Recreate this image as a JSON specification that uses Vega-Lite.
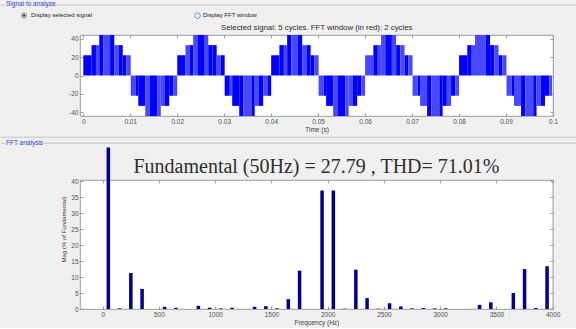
{
  "$schema": "https://vega.github.io/schema/vega-lite/v6.json",
  "background": "#f0f0f0",
  "padding": {"left": 0, "top": 0, "right": 0, "bottom": 1},
  "spacing": 2,
  "datasets": {
    "wave": [
      {"t0":0,"t1":0.00175,"v":22,"s":"d"},{"t0":0.00175,"t1":0.0027,"v":33,"s":"d"},{"t0":0.0027,"t1":0.0034,"v":33,"s":"l"},{"t0":0.0034,"t1":0.0043,"v":44,"s":"d"},{"t0":0.0043,"t1":0.0057,"v":44,"s":"l"},{"t0":0.0057,"t1":0.0066,"v":44,"s":"d"},{"t0":0.0066,"t1":0.0075,"v":33,"s":"l"},{"t0":0.0075,"t1":0.0084,"v":33,"s":"d"},{"t0":0.0084,"t1":0.0092,"v":22,"s":"d"},{"t0":0.0092,"t1":0.0101,"v":22,"s":"l"},
      {"t0":0.0101,"t1":0.0112,"v":-22,"s":"l"},{"t0":0.0112,"t1":0.0117,"v":-22,"s":"d"},{"t0":0.0117,"t1":0.0132,"v":-33,"s":"d"},{"t0":0.0132,"t1":0.0141,"v":-44,"s":"l"},{"t0":0.0141,"t1":0.0158,"v":-44,"s":"d"},{"t0":0.0158,"t1":0.0165,"v":-44,"s":"l"},{"t0":0.0165,"t1":0.0174,"v":-33,"s":"l"},{"t0":0.0174,"t1":0.0183,"v":-33,"s":"d"},{"t0":0.0183,"t1":0.0192,"v":-22,"s":"d"},{"t0":0.0192,"t1":0.02,"v":-22,"s":"l"},
      {"t0":0.02,"t1":0.02175,"v":22,"s":"d"},{"t0":0.02175,"t1":0.0227,"v":33,"s":"l"},{"t0":0.0227,"t1":0.0234,"v":33,"s":"d"},{"t0":0.0234,"t1":0.0243,"v":44,"s":"l"},{"t0":0.0243,"t1":0.0257,"v":44,"s":"d"},{"t0":0.0257,"t1":0.0266,"v":44,"s":"l"},{"t0":0.0266,"t1":0.0275,"v":33,"s":"d"},{"t0":0.0275,"t1":0.0284,"v":33,"s":"d"},{"t0":0.0284,"t1":0.0292,"v":22,"s":"l"},{"t0":0.0292,"t1":0.0301,"v":22,"s":"d"},
      {"t0":0.0301,"t1":0.0312,"v":-22,"s":"d"},{"t0":0.0312,"t1":0.0317,"v":-22,"s":"l"},{"t0":0.0317,"t1":0.0332,"v":-33,"s":"d"},{"t0":0.0332,"t1":0.0341,"v":-44,"s":"d"},{"t0":0.0341,"t1":0.0358,"v":-44,"s":"l"},{"t0":0.0358,"t1":0.0365,"v":-44,"s":"d"},{"t0":0.0365,"t1":0.0374,"v":-33,"s":"l"},{"t0":0.0374,"t1":0.0383,"v":-33,"s":"d"},{"t0":0.0383,"t1":0.0392,"v":-22,"s":"l"},{"t0":0.0392,"t1":0.04,"v":-22,"s":"d"},
      {"t0":0.04,"t1":0.04175,"v":22,"s":"d"},{"t0":0.04175,"t1":0.0427,"v":33,"s":"d"},{"t0":0.0427,"t1":0.0434,"v":33,"s":"l"},{"t0":0.0434,"t1":0.0443,"v":44,"s":"d"},{"t0":0.0443,"t1":0.0457,"v":44,"s":"l"},{"t0":0.0457,"t1":0.0466,"v":44,"s":"d"},{"t0":0.0466,"t1":0.0475,"v":33,"s":"l"},{"t0":0.0475,"t1":0.0484,"v":33,"s":"d"},{"t0":0.0484,"t1":0.0492,"v":22,"s":"d"},{"t0":0.0492,"t1":0.0501,"v":22,"s":"l"},
      {"t0":0.0501,"t1":0.0512,"v":-22,"s":"l"},{"t0":0.0512,"t1":0.0517,"v":-22,"s":"d"},{"t0":0.0517,"t1":0.0532,"v":-33,"s":"d"},{"t0":0.0532,"t1":0.0541,"v":-44,"s":"l"},{"t0":0.0541,"t1":0.0558,"v":-44,"s":"d"},{"t0":0.0558,"t1":0.0565,"v":-44,"s":"l"},{"t0":0.0565,"t1":0.0574,"v":-33,"s":"l"},{"t0":0.0574,"t1":0.0583,"v":-33,"s":"d"},{"t0":0.0583,"t1":0.0592,"v":-22,"s":"d"},{"t0":0.0592,"t1":0.06,"v":-22,"s":"l"},
      {"t0":0.06,"t1":0.06175,"v":22,"s":"l"},{"t0":0.06175,"t1":0.0627,"v":33,"s":"d"},{"t0":0.0627,"t1":0.0634,"v":33,"s":"l"},{"t0":0.0634,"t1":0.0643,"v":44,"s":"l"},{"t0":0.0643,"t1":0.0657,"v":44,"s":"d"},{"t0":0.0657,"t1":0.0666,"v":44,"s":"l"},{"t0":0.0666,"t1":0.0675,"v":33,"s":"d"},{"t0":0.0675,"t1":0.0684,"v":33,"s":"l"},{"t0":0.0684,"t1":0.0692,"v":22,"s":"d"},{"t0":0.0692,"t1":0.0701,"v":22,"s":"l"},
      {"t0":0.0701,"t1":0.0712,"v":-22,"s":"l"},{"t0":0.0712,"t1":0.0717,"v":-22,"s":"d"},{"t0":0.0717,"t1":0.0732,"v":-33,"s":"l"},{"t0":0.0732,"t1":0.0741,"v":-44,"s":"d"},{"t0":0.0741,"t1":0.0758,"v":-44,"s":"l"},{"t0":0.0758,"t1":0.0765,"v":-44,"s":"d"},{"t0":0.0765,"t1":0.0774,"v":-33,"s":"d"},{"t0":0.0774,"t1":0.0783,"v":-33,"s":"l"},{"t0":0.0783,"t1":0.0792,"v":-22,"s":"d"},{"t0":0.0792,"t1":0.08,"v":-22,"s":"l"},
      {"t0":0.08,"t1":0.08175,"v":22,"s":"d"},{"t0":0.08175,"t1":0.0827,"v":33,"s":"d"},{"t0":0.0827,"t1":0.0834,"v":33,"s":"l"},{"t0":0.0834,"t1":0.0857,"v":44,"s":"l"},{"t0":0.0857,"t1":0.0866,"v":44,"s":"d"},{"t0":0.0866,"t1":0.0875,"v":33,"s":"d"},{"t0":0.0875,"t1":0.0884,"v":33,"s":"l"},{"t0":0.0884,"t1":0.0892,"v":22,"s":"d"},{"t0":0.0892,"t1":0.0901,"v":22,"s":"l"},
      {"t0":0.0901,"t1":0.0912,"v":-22,"s":"l"},{"t0":0.0912,"t1":0.0917,"v":-22,"s":"d"},{"t0":0.0917,"t1":0.0932,"v":-33,"s":"l"},{"t0":0.0932,"t1":0.0941,"v":-44,"s":"d"},{"t0":0.0941,"t1":0.0958,"v":-44,"s":"l"},{"t0":0.0958,"t1":0.0965,"v":-44,"s":"d"},{"t0":0.0965,"t1":0.0974,"v":-33,"s":"l"},{"t0":0.0974,"t1":0.0983,"v":-33,"s":"d"},{"t0":0.0983,"t1":0.0992,"v":-22,"s":"d"},{"t0":0.0992,"t1":0.0998,"v":-22,"s":"l"}
    ],
    "fft": [
      {"f":50,"m":50.6},{"f":150,"m":0.2},{"f":250,"m":11.3},{"f":350,"m":6.3},{"f":550,"m":0.7},{"f":650,"m":0.4},{"f":850,"m":1.0},{"f":950,"m":0.4},{"f":1050,"m":0.2},{"f":1150,"m":0.4},{"f":1350,"m":0.7},{"f":1450,"m":0.9},{"f":1550,"m":0.2},{"f":1650,"m":3.1},{"f":1750,"m":12.0},{"f":1950,"m":37.1},{"f":2050,"m":37.1},{"f":2150,"m":0.1},{"f":2250,"m":12.3},{"f":2350,"m":3.4},{"f":2450,"m":0.1},{"f":2550,"m":1.8},{"f":2650,"m":0.8},{"f":2750,"m":0.2},{"f":2850,"m":0.3},{"f":2950,"m":0.2},{"f":3050,"m":0.2},{"f":3350,"m":1.3},{"f":3450,"m":2.1},{"f":3650,"m":5.0},{"f":3750,"m":12.5},{"f":3850,"m":0.3},{"f":3950,"m":13.4}
    ]
  },
  "vconcat": [
    {
      "width": 473,
      "height": 81,
      "resolve": {"axis": {"x": "independent", "y": "independent"}},
      "layer": [
        {
          "data": {"name": "wave"},
          "mark": {"type": "rect", "clip": true},
          "encoding": {
            "x": {"field": "t0", "type": "quantitative", "scale": {"domain": [-0.0007, 0.1], "nice": false, "zero": false, "padding": 0},
                  "axis": {"values": [0,0.01,0.02,0.03,0.04,0.05,0.06,0.07,0.08,0.09,0.1], "labelExpr": "'' + datum.value", "title": "Time (s)", "labelFlush": false}},
            "x2": {"field": "t1"},
            "y": {"field": "v", "type": "quantitative", "scale": {"domain": [-44, 44], "nice": false},
                  "axis": {"values": [-40,-20,0,20,40], "labelExpr": "'' + datum.value", "title": null}},
            "y2": {"datum": 0},
            "color": {"field": "s", "type": "nominal", "scale": {"domain": ["d","l"], "range": ["#0000ff","#4848ff"]}, "legend": null}
          }
        },
        {
          "data": {"values": [{}]},
          "mark": {"type": "text", "text": ""},
          "encoding": {
            "x": {"datum": 0, "type": "quantitative", "axis": {"orient": "top", "labels": false, "title": null, "values": [0,0.01,0.02,0.03,0.04,0.05,0.06,0.07,0.08,0.09,0.1]}},
            "y": {"datum": 0, "type": "quantitative", "axis": {"orient": "right", "labels": false, "title": null, "values": [-40,-20,0,20,40]}}
          }
        },
        {
          "data": {"values": [{}]},
          "mark": {"type": "rule", "color": "#c4c4c4", "strokeWidth": 1, "clip": false},
          "encoding": {
            "x": {"datum": -0.00815, "type": "quantitative", "axis": null},
            "x2": {"datum": 0.10511},
            "y": {"datum": 76.6, "type": "quantitative", "axis": null}
          }
        },
        {
          "data": {"values": [{}]},
          "mark": {"type": "rule", "color": "#c4c4c4", "strokeWidth": 1, "clip": false},
          "encoding": {
            "x": {"datum": -0.01752, "type": "quantitative", "axis": null},
            "x2": {"datum": -0.01669},
            "y": {"datum": 76.6, "type": "quantitative", "axis": null}
          }
        },
        {
          "data": {"values": [{}]},
          "mark": {"type": "text", "text": "Signal to analyze", "align": "left", "baseline": "middle", "fontSize": 6.5, "color": "#2f3fc8", "clip": false},
          "encoding": {
            "x": {"datum": -0.01645, "type": "quantitative", "axis": null},
            "y": {"datum": 78.2, "type": "quantitative", "axis": null}
          }
        },
        {
          "data": {"values": [{}]},
          "mark": {"type": "point", "shape": "circle", "filled": true, "fill": "#ffffff", "stroke": "#6a6a6a", "strokeWidth": 0.8, "size": 28, "opacity": 1, "clip": false},
          "encoding": {
            "x": {"datum": -0.01262, "type": "quantitative", "axis": null},
            "y": {"datum": 65.2, "type": "quantitative", "axis": null}
          }
        },
        {
          "data": {"values": [{}]},
          "mark": {"type": "point", "shape": "circle", "filled": true, "fill": "#222222", "size": 7, "opacity": 1, "clip": false},
          "encoding": {
            "x": {"datum": -0.01262, "type": "quantitative", "axis": null},
            "y": {"datum": 65.2, "type": "quantitative", "axis": null}
          }
        },
        {
          "data": {"values": [{}]},
          "mark": {"type": "point", "shape": "circle", "filled": true, "fill": "#ffffff", "stroke": "#3f9cf0", "strokeWidth": 1, "size": 30, "opacity": 1, "clip": false},
          "encoding": {
            "x": {"datum": 0.02432, "type": "quantitative", "axis": null},
            "y": {"datum": 65.0, "type": "quantitative", "axis": null}
          }
        },
        {
          "data": {"values": [{}]},
          "mark": {"type": "text", "text": "Display selected signal", "align": "left", "baseline": "middle", "fontSize": 6, "color": "#222222", "clip": false},
          "encoding": {
            "x": {"datum": -0.01113, "type": "quantitative", "axis": null},
            "y": {"datum": 65.2, "type": "quantitative", "axis": null}
          }
        },
        {
          "data": {"values": [{}]},
          "mark": {"type": "text", "text": "Display FFT window", "align": "left", "baseline": "middle", "fontSize": 6, "color": "#222222", "clip": false},
          "encoding": {
            "x": {"datum": 0.02549, "type": "quantitative", "axis": null},
            "y": {"datum": 65.2, "type": "quantitative", "axis": null}
          }
        },
        {
          "data": {"values": [{}]},
          "mark": {"type": "text", "text": "Selected signal: 5 cycles. FFT window (in red): 2 cycles", "align": "center", "baseline": "middle", "fontSize": 7.8, "color": "#2a2a2a", "clip": false},
          "encoding": {
            "x": {"datum": 0.0497, "type": "quantitative", "axis": null},
            "y": {"datum": 52.1, "type": "quantitative", "axis": null}
          }
        }
      ]
    },
    {
      "width": 472.7,
      "height": 129,
      "resolve": {"axis": {"x": "independent", "y": "independent"}},
      "layer": [
        {
          "data": {"name": "fft"},
          "mark": {"type": "bar", "width": 3.5, "color": "#00008f", "clip": false},
          "encoding": {
            "x": {"field": "f", "type": "quantitative", "scale": {"domain": [-202, 4000], "nice": false, "zero": false, "padding": 0},
                  "axis": {"values": [0,500,1000,1500,2000,2500,3000,3500,4000], "labelExpr": "'' + datum.value", "title": "Frequency (Hz)", "labelFlush": false}},
            "y": {"field": "m", "type": "quantitative", "scale": {"domain": [0, 40.4], "nice": false},
                  "axis": {"values": [0,5,10,15,20,25,30,35,40], "labelExpr": "'' + datum.value", "title": "Mag (% of Fundamental)", "titleFontSize": 6, "titleY": 49, "titlePadding": 4}}
          }
        },
        {
          "data": {"values": [{}]},
          "mark": {"type": "text", "text": ""},
          "encoding": {
            "x": {"datum": 0, "type": "quantitative", "axis": {"orient": "top", "labels": false, "title": null, "values": [0,500,1000,1500,2000,2500,3000,3500,4000]}},
            "y": {"datum": 0, "type": "quantitative", "axis": {"orient": "right", "labels": false, "title": null, "values": [0,5,10,15,20,25,30,35,40]}}
          }
        },
        {
          "data": {"values": [{}]},
          "mark": {"type": "rule", "color": "#c4c4c4", "strokeWidth": 1, "clip": false},
          "encoding": {
            "x": {"datum": -904.2, "type": "quantitative", "axis": null},
            "x2": {"datum": 4215.8},
            "y": {"datum": 53.8, "type": "quantitative", "axis": null}
          }
        },
        {
          "data": {"values": [{}]},
          "mark": {"type": "rule", "color": "#c4c4c4", "strokeWidth": 1, "clip": false},
          "encoding": {
            "x": {"datum": -530.9, "type": "quantitative", "axis": null},
            "x2": {"datum": 4215.8},
            "y": {"datum": 51.93, "type": "quantitative", "axis": null}
          }
        },
        {
          "data": {"values": [{}]},
          "mark": {"type": "rule", "color": "#c4c4c4", "strokeWidth": 1, "clip": false},
          "encoding": {
            "x": {"datum": -904.2, "type": "quantitative", "axis": null},
            "x2": {"datum": -868.7},
            "y": {"datum": 51.93, "type": "quantitative", "axis": null}
          }
        },
        {
          "data": {"values": [{}]},
          "mark": {"type": "text", "text": "FFT analysis", "align": "left", "baseline": "middle", "fontSize": 6.5, "color": "#2f3fc8", "clip": false},
          "encoding": {
            "x": {"datum": -859.8, "type": "quantitative", "axis": null},
            "y": {"datum": 51.9, "type": "quantitative", "axis": null}
          }
        },
        {
          "data": {"values": [{}]},
          "mark": {"type": "text", "text": "Fundamental (50Hz) = 27.79 , THD= 71.01%", "align": "center", "baseline": "middle", "font": "Liberation Serif", "fontSize": 20, "color": "#2e2e2e", "clip": false},
          "encoding": {
            "x": {"datum": 1900, "type": "quantitative", "axis": null},
            "y": {"datum": 44.6, "type": "quantitative", "axis": null}
          }
        }
      ]
    }
  ],
  "config": {
    "font": "Liberation Sans",
    "view": {"stroke": "#858585", "strokeWidth": 0.8, "fill": "#ffffff"},
    "axis": {
      "domain": false,
      "grid": false,
      "ticks": true,
      "tickColor": "#858585",
      "tickSize": -3,
      "tickWidth": 0.8,
      "labelFontSize": 6.5,
      "labelColor": "#505050",
      "labelPadding": 5,
      "titleFontSize": 6.5,
      "titleFontWeight": "normal",
      "titleColor": "#404040",
      "titlePadding": 2
    }
  }
}
